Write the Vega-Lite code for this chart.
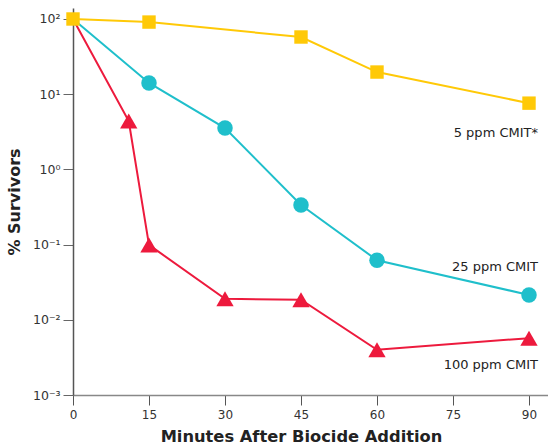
{
  "$schema": "https://vega.github.io/schema/vega-lite/v6.json",
  "width": 475,
  "height": 387,
  "autosize": {"type": "none"},
  "padding": {"left": 73, "top": 8, "right": 0, "bottom": 51},
  "background": "white",
  "config": {
    "font": "DejaVu Sans",
    "view": {"stroke": null},
    "axis": {"grid": false, "labelFlush": false}
  },
  "data": {
    "values": [
      {"series": "100 ppm CMIT", "minutes": 0, "pct": 100},
      {"series": "100 ppm CMIT", "minutes": 11, "pct": 4.4},
      {"series": "100 ppm CMIT", "minutes": 15, "pct": 0.099},
      {"series": "100 ppm CMIT", "minutes": 30, "pct": 0.019},
      {"series": "100 ppm CMIT", "minutes": 45, "pct": 0.0185},
      {"series": "100 ppm CMIT", "minutes": 60, "pct": 0.004},
      {"series": "100 ppm CMIT", "minutes": 90, "pct": 0.0057},
      {"series": "25 ppm CMIT", "minutes": 0, "pct": 100},
      {"series": "25 ppm CMIT", "minutes": 15, "pct": 14.1},
      {"series": "25 ppm CMIT", "minutes": 30, "pct": 3.55},
      {"series": "25 ppm CMIT", "minutes": 45, "pct": 0.336},
      {"series": "25 ppm CMIT", "minutes": 60, "pct": 0.062},
      {"series": "25 ppm CMIT", "minutes": 90, "pct": 0.0214},
      {"series": "5 ppm CMIT*", "minutes": 0, "pct": 100},
      {"series": "5 ppm CMIT*", "minutes": 15, "pct": 91},
      {"series": "5 ppm CMIT*", "minutes": 45, "pct": 57.6},
      {"series": "5 ppm CMIT*", "minutes": 60, "pct": 19.7},
      {"series": "5 ppm CMIT*", "minutes": 90, "pct": 7.6}
    ]
  },
  "encoding": {
    "x": {
      "field": "minutes",
      "type": "quantitative",
      "scale": {"domain": [0, 93.75], "nice": false, "zero": false},
      "axis": {
        "values": [0, 15, 30, 45, 60, 75, 90],
        "title": "Minutes After Biocide Addition",
        "titleFontSize": 16.3,
        "titleFontWeight": "bold",
        "titleColor": "#222222",
        "titleX": 228,
        "titlePadding": 8,
        "labelFontSize": 12,
        "labelColor": "#333333",
        "labelPadding": 4,
        "tickSize": 10,
        "tickColor": "#555555",
        "domainColor": "#888888",
        "domainWidth": 1.5
      }
    },
    "y": {
      "field": "pct",
      "type": "quantitative",
      "scale": {"type": "log", "domain": [0.001, 140], "nice": false},
      "axis": {
        "values": [0.001, 0.01, 0.1, 1, 10, 100],
        "labelExpr": "'10' + ['⁻³','⁻²','⁻¹','⁰','¹','²'][round(log(datum.value)/LN10)+3]",
        "title": "% Survivors",
        "titleFontSize": 16,
        "titleFontWeight": "bold",
        "titleColor": "#222222",
        "titlePadding": 10,
        "labelFontSize": 12.5,
        "labelColor": "#333333",
        "labelPadding": 3,
        "tickSize": 10,
        "tickColor": "#666666",
        "domainColor": "#555555",
        "domainWidth": 1.5
      }
    },
    "color": {
      "field": "series",
      "type": "nominal",
      "scale": {
        "domain": ["100 ppm CMIT", "25 ppm CMIT", "5 ppm CMIT*"],
        "range": ["#ED1A3D", "#1FBFCB", "#FFC907"]
      },
      "legend": null
    }
  },
  "layer": [
    {
      "mark": {"type": "line", "strokeWidth": 2}
    },
    {
      "transform": [{"filter": "datum.minutes > 0 || datum.series == '5 ppm CMIT*'"}],
      "mark": {"type": "point", "filled": true, "opacity": 1},
      "encoding": {
        "shape": {
          "field": "series",
          "type": "nominal",
          "scale": {
            "domain": ["100 ppm CMIT", "25 ppm CMIT", "5 ppm CMIT*"],
            "range": ["triangle-up", "circle", "square"]
          },
          "legend": null
        },
        "size": {
          "field": "series",
          "type": "nominal",
          "scale": {
            "domain": ["100 ppm CMIT", "25 ppm CMIT", "5 ppm CMIT*"],
            "range": [300, 180, 324]
          },
          "legend": null
        }
      }
    },
    {
      "transform": [{"filter": "datum.minutes == 90 && datum.series == '5 ppm CMIT*'"}],
      "mark": {"type": "text", "align": "right", "baseline": "middle", "dx": 9, "dy": 30, "fontSize": 13, "color": "#222222"},
      "encoding": {"text": {"field": "series"}, "color": {"value": "#222222"}}
    },
    {
      "transform": [{"filter": "datum.minutes == 90 && datum.series == '25 ppm CMIT'"}],
      "mark": {"type": "text", "align": "right", "baseline": "middle", "dx": 9, "dy": -28, "fontSize": 13, "color": "#222222"},
      "encoding": {"text": {"field": "series"}, "color": {"value": "#222222"}}
    },
    {
      "transform": [{"filter": "datum.minutes == 90 && datum.series == '100 ppm CMIT'"}],
      "mark": {"type": "text", "align": "right", "baseline": "middle", "dx": 9, "dy": 27, "fontSize": 13, "color": "#222222"},
      "encoding": {"text": {"field": "series"}, "color": {"value": "#222222"}}
    }
  ]
}
